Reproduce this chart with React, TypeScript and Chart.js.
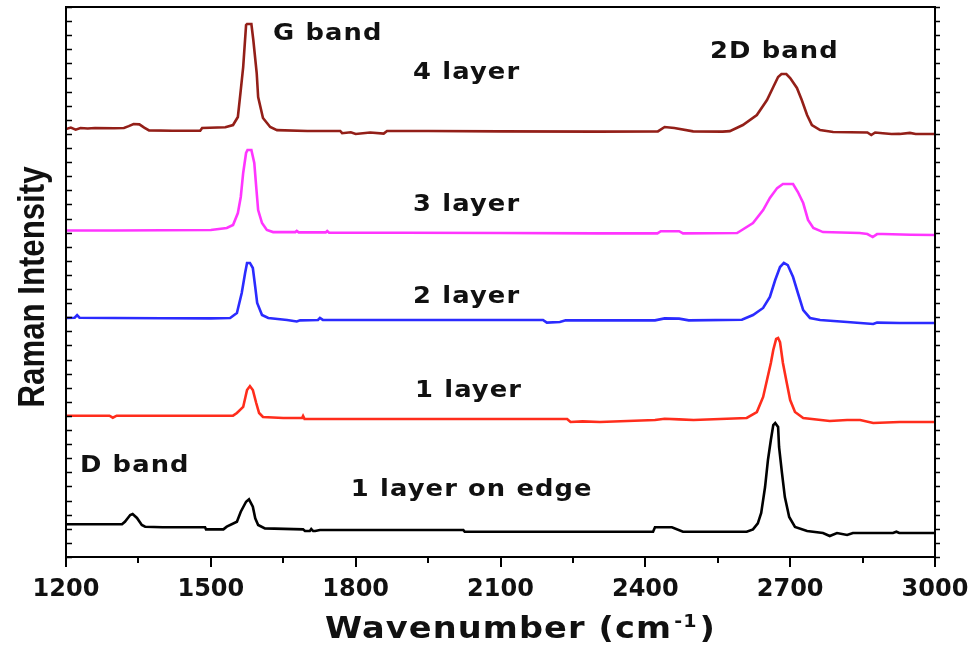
import React, { useEffect, useRef } from 'react';
import { Chart, registerables } from 'chart.js';

Chart.register(...registerables);

// Axis ranges
const X_MIN = 1200;
const X_MAX = 3000;
const X_STEP = 300;
const Y_MIN = 0;
const Y_MAX = 39;

// 4 layer (dark red)
const L4_X = [1200, 1210, 1220, 1230, 1245, 1260, 1300, 1320, 1330, 1340, 1352, 1362, 1372, 1420, 1478, 1482, 1530, 1546, 1556, 1562, 1567, 1573, 1575, 1584, 1588, 1595, 1598, 1608, 1623, 1637, 1700, 1768, 1772, 1790, 1800, 1830, 1858, 1865, 1950, 2100, 2300, 2426, 2440, 2460, 2499, 2560, 2575, 2602, 2631, 2652, 2665, 2675, 2682, 2692, 2700, 2714, 2724, 2735, 2745, 2762, 2789, 2860, 2868, 2876, 2892, 2910, 2927, 2948, 2960, 3000];
const L4_Y = [30.35, 30.45, 30.30, 30.42, 30.38, 30.42, 30.40, 30.42, 30.55, 30.70, 30.68, 30.45, 30.25, 30.23, 30.23, 30.42, 30.47, 30.63, 31.20, 33.11, 34.74, 37.72, 37.79, 37.79, 36.66, 34.32, 32.62, 31.13, 30.49, 30.27, 30.21, 30.21, 30.05, 30.12, 30.00, 30.10, 30.02, 30.21, 30.21, 30.18, 30.16, 30.18, 30.49, 30.42, 30.18, 30.16, 30.20, 30.63, 31.34, 32.40, 33.33, 34.04, 34.25, 34.25, 33.96, 33.26, 32.40, 31.34, 30.63, 30.27, 30.14, 30.10, 29.92, 30.10, 30.05, 29.99, 30.00, 30.07, 29.99, 29.99];

// 3 layer (magenta)
const L3_X = [1200, 1300, 1400, 1500, 1533, 1546, 1556, 1562, 1567, 1573, 1576, 1584, 1590, 1594, 1598, 1606, 1616, 1629, 1675, 1678, 1682, 1738, 1741, 1745, 1900, 2100, 2300, 2425, 2432, 2470, 2478, 2590, 2596, 2623, 2644, 2658, 2673, 2685, 2706, 2716, 2727, 2737, 2748, 2768, 2844, 2860, 2871, 2880, 2892, 2950, 3000];
const L3_Y = [23.15, 23.15, 23.17, 23.19, 23.33, 23.54, 24.39, 25.53, 27.23, 28.65, 28.86, 28.86, 27.94, 26.24, 24.60, 23.68, 23.19, 23.04, 23.04, 23.12, 23.02, 23.02, 23.12, 22.99, 22.99, 22.97, 22.95, 22.95, 23.10, 23.10, 22.95, 22.97, 23.10, 23.68, 24.60, 25.46, 26.16, 26.45, 26.45, 25.88, 25.10, 23.90, 23.33, 23.04, 22.97, 22.90, 22.69, 22.90, 22.90, 22.85, 22.83];

// 2 layer (blue)
const L2_X = [1200, 1218, 1223, 1228, 1300, 1400, 1500, 1540, 1554, 1564, 1571, 1575, 1581, 1587, 1592, 1596, 1606, 1619, 1658, 1678, 1685, 1722, 1726, 1732, 1900, 2188, 2196, 2223, 2235, 2420, 2440, 2470, 2490, 2600, 2623, 2644, 2658, 2669, 2679, 2687, 2695, 2706, 2716, 2727, 2741, 2762, 2818, 2872, 2880, 2927, 3000];
const L2_Y = [16.95, 16.97, 17.15, 16.97, 16.95, 16.93, 16.92, 16.95, 17.30, 18.72, 20.14, 20.85, 20.85, 20.49, 19.14, 18.01, 17.16, 16.95, 16.81, 16.70, 16.78, 16.81, 16.95, 16.81, 16.81, 16.81, 16.62, 16.66, 16.78, 16.78, 16.92, 16.90, 16.78, 16.82, 17.16, 17.66, 18.44, 19.64, 20.56, 20.85, 20.70, 19.85, 18.72, 17.51, 16.95, 16.81, 16.66, 16.52, 16.62, 16.59, 16.59];

// 1 layer (red)
const L1_X = [1200, 1290, 1297, 1305, 1400, 1500, 1546, 1554, 1567, 1575, 1581, 1587, 1594, 1600, 1608, 1650, 1689, 1691, 1694, 1900, 2238, 2245, 2270, 2306, 2420, 2440, 2470, 2500, 2610, 2631, 2644, 2652, 2660, 2665, 2671, 2675, 2679, 2685, 2693, 2700, 2710, 2727, 2782, 2818, 2845, 2872, 2927, 3000];
const L1_Y = [10.02, 10.02, 9.88, 10.02, 10.02, 10.02, 10.02, 10.21, 10.64, 11.84, 12.12, 11.84, 10.92, 10.21, 9.93, 9.86, 9.86, 10.00, 9.79, 9.79, 9.79, 9.57, 9.62, 9.57, 9.71, 9.80, 9.76, 9.71, 9.86, 10.28, 11.35, 12.55, 13.76, 14.68, 15.46, 15.53, 15.24, 13.76, 12.34, 11.13, 10.28, 9.86, 9.64, 9.71, 9.71, 9.50, 9.57, 9.57];

// 1 layer on edge (black)
const LE_X = [1200, 1316, 1322, 1333, 1338, 1347, 1357, 1364, 1400, 1488, 1490, 1526, 1533, 1554, 1562, 1573, 1579, 1587, 1592, 1598, 1612, 1691, 1695, 1705, 1708, 1712, 1716, 1726, 1900, 2023, 2026, 2200, 2416, 2420, 2455, 2478, 2610, 2623, 2633, 2640, 2648, 2654, 2660, 2665, 2669, 2675, 2677, 2683, 2689, 2698, 2710, 2735, 2768, 2782, 2797, 2818, 2830, 2913, 2920, 2926, 3000];
const LE_Y = [2.32, 2.32, 2.50, 2.98, 3.05, 2.77, 2.27, 2.15, 2.11, 2.11, 1.96, 1.96, 2.15, 2.50, 3.21, 3.92, 4.09, 3.57, 2.74, 2.27, 2.03, 1.96, 1.84, 1.84, 1.98, 1.84, 1.84, 1.91, 1.91, 1.91, 1.79, 1.79, 1.79, 2.11, 2.11, 1.79, 1.79, 1.96, 2.39, 3.12, 4.96, 6.88, 8.30, 9.36, 9.50, 9.22, 7.80, 5.96, 4.25, 2.84, 2.13, 1.84, 1.70, 1.49, 1.70, 1.56, 1.70, 1.70, 1.79, 1.70, 1.70];

const SERIES_NAMES = ['4 layer', '3 layer', '2 layer', '1 layer', '1 layer on edge'];
const SERIES_X = [L4_X, L3_X, L2_X, L1_X, LE_X];
const SERIES_Y = [L4_Y, L3_Y, L2_Y, L1_Y, LE_Y];
const SERIES_COLORS = ['#931f18', '#ff35ff', '#2b2bff', '#ff2d1c', '#000000'];

// In-plot annotations (text, wavenumber, intensity)
const LABEL_TEXT = ['G band', '4 layer', '2D band', '3 layer', '2 layer', '1 layer', 'D band', '1 layer on edge'];
const LABEL_X = [1629, 1919, 2534, 1919, 1919, 1923, 1229, 1790];
const LABEL_Y = [37.1, 34.3, 35.8, 24.95, 18.4, 11.8, 6.45, 4.75];

const X_TITLE = 'Wavenumber (cm';
const X_TITLE_SUP = '-1';
const X_TITLE_END = ')';
const Y_TITLE = 'Raman Intensity';

const WIDE = 1.12;

function wideText(ctx: CanvasRenderingContext2D, text: string, px: number, py: number) {
  ctx.save();
  ctx.translate(px, py);
  ctx.scale(WIDE, 1);
  ctx.fillText(text, 0, 0);
  ctx.restore();
}

const decorPlugin = {
  id: 'decor',
  afterDatasetsDraw(chart: any) {
    const { ctx, chartArea: a, scales } = chart;
    const x = scales.x;
    const y = scales.y;
    ctx.save();
    // frame
    ctx.strokeStyle = '#000';
    ctx.lineWidth = 2;
    ctx.strokeRect(a.left, a.top, a.right - a.left, a.bottom - a.top);
    // ticks
    ctx.lineWidth = 1.6;
    ctx.beginPath();
    for (let v = Y_MIN; v <= Y_MAX; v++) {
      const py = Math.round(y.getPixelForValue(v)) + 0.5;
      ctx.moveTo(a.left, py);
      ctx.lineTo(a.left + 6, py);
      ctx.moveTo(a.right, py);
      ctx.lineTo(a.right + 5, py);
    }
    ctx.stroke();
    ctx.lineWidth = 2;
    ctx.beginPath();
    for (let v = X_MIN; v <= X_MAX; v += X_STEP / 2) {
      const px = Math.round(x.getPixelForValue(v));
      const major = (v - X_MIN) % X_STEP === 0;
      ctx.moveTo(px, a.bottom);
      ctx.lineTo(px, a.bottom + (major ? 10 : 6));
    }
    ctx.stroke();

    // annotations
    ctx.fillStyle = '#111';
    ctx.font = 'bold 23px "DejaVu Sans"';
    (ctx as any).letterSpacing = '1px';
    ctx.textAlign = 'left';
    ctx.textBaseline = 'middle';
    LABEL_TEXT.forEach((t, i) => {
      wideText(ctx, t, x.getPixelForValue(LABEL_X[i]), y.getPixelForValue(LABEL_Y[i]));
    });

    // x title
    const big = 'bold 30px "DejaVu Sans"';
    const small = 'bold 17px "DejaVu Sans"';
    ctx.textBaseline = 'alphabetic';
    ctx.font = big;
    (ctx as any).letterSpacing = '1px';
    const w1 = ctx.measureText(X_TITLE).width * WIDE;
    const w3 = ctx.measureText(X_TITLE_END).width * WIDE;
    ctx.font = small;
    const w2 = ctx.measureText(X_TITLE_SUP).width * WIDE;
    const total = w1 + w2 + w3 + 4;
    const cx = (a.left + a.right) / 2 + 20;
    let tx = cx - total / 2;
    const base = a.bottom + 81;
    ctx.font = big;
    wideText(ctx, X_TITLE, tx, base);
    tx += w1 + 2;
    ctx.font = small;
    wideText(ctx, X_TITLE_SUP, tx, base - 11);
    tx += w2 + 2;
    ctx.font = big;
    wideText(ctx, X_TITLE_END, tx, base);

    // y title
    (ctx as any).letterSpacing = '0px';
    ctx.font = 'bold 37px "Liberation Sans Narrow", "Liberation Sans", sans-serif';
    const yw = ctx.measureText(Y_TITLE).width;
    const target = 241;
    ctx.translate(44, (a.top + a.bottom) / 2 + 5);
    ctx.rotate(-Math.PI / 2);
    if (yw > target) ctx.scale(target / yw, 1);
    ctx.textAlign = 'center';
    ctx.fillText(Y_TITLE, 0, 0);
    ctx.restore();
  },
};

export default function App() {
  const ref = useRef<HTMLCanvasElement | null>(null);
  useEffect(() => {
    if (!ref.current) return;
    const chart = new Chart(ref.current, {
      type: 'line',
      data: {
        datasets: SERIES_NAMES.map((name, i) => ({
          label: name,
          data: SERIES_X[i].map((xv, j) => ({ x: xv, y: SERIES_Y[i][j] })),
          borderColor: SERIES_COLORS[i],
          backgroundColor: SERIES_COLORS[i],
          borderWidth: 2.6,
          pointRadius: 0,
          tension: 0,
          fill: false,
        })),
      },
      options: {
        animation: false,
        responsive: false,
        devicePixelRatio: 1,
        layout: { padding: { top: 7, right: 38, left: 0, bottom: 0 } },
        plugins: { legend: { display: false }, tooltip: { enabled: false } },
        scales: {
          x: {
            type: 'linear',
            min: X_MIN,
            max: X_MAX,
            border: { display: false },
            grid: { display: false, drawTicks: false },
            ticks: {
              stepSize: X_STEP,
              color: '#111',
              padding: 18,
              maxRotation: 0,
              font: { family: 'DejaVu Sans', weight: 'bold', size: 24 },
              callback: (v: any) => String(v),
            },
            afterFit: (s: any) => {
              s.height = 98;
              s.paddingLeft = 0;
              s.paddingRight = 0;
            },
          },
          y: {
            min: Y_MIN,
            max: Y_MAX,
            border: { display: false },
            grid: { display: false, drawTicks: false },
            ticks: { display: false },
            afterFit: (s: any) => { s.width = 66; },
          },
        },
      },
      plugins: [decorPlugin],
    });
    return () => chart.destroy();
  }, []);
  return (
    <div style={{ position: 'absolute', left: 0, top: 0, width: 973, height: 655, background: '#fff' }}>
      <canvas ref={ref} width={973} height={655} style={{ display: 'block' }} />
    </div>
  );
}
